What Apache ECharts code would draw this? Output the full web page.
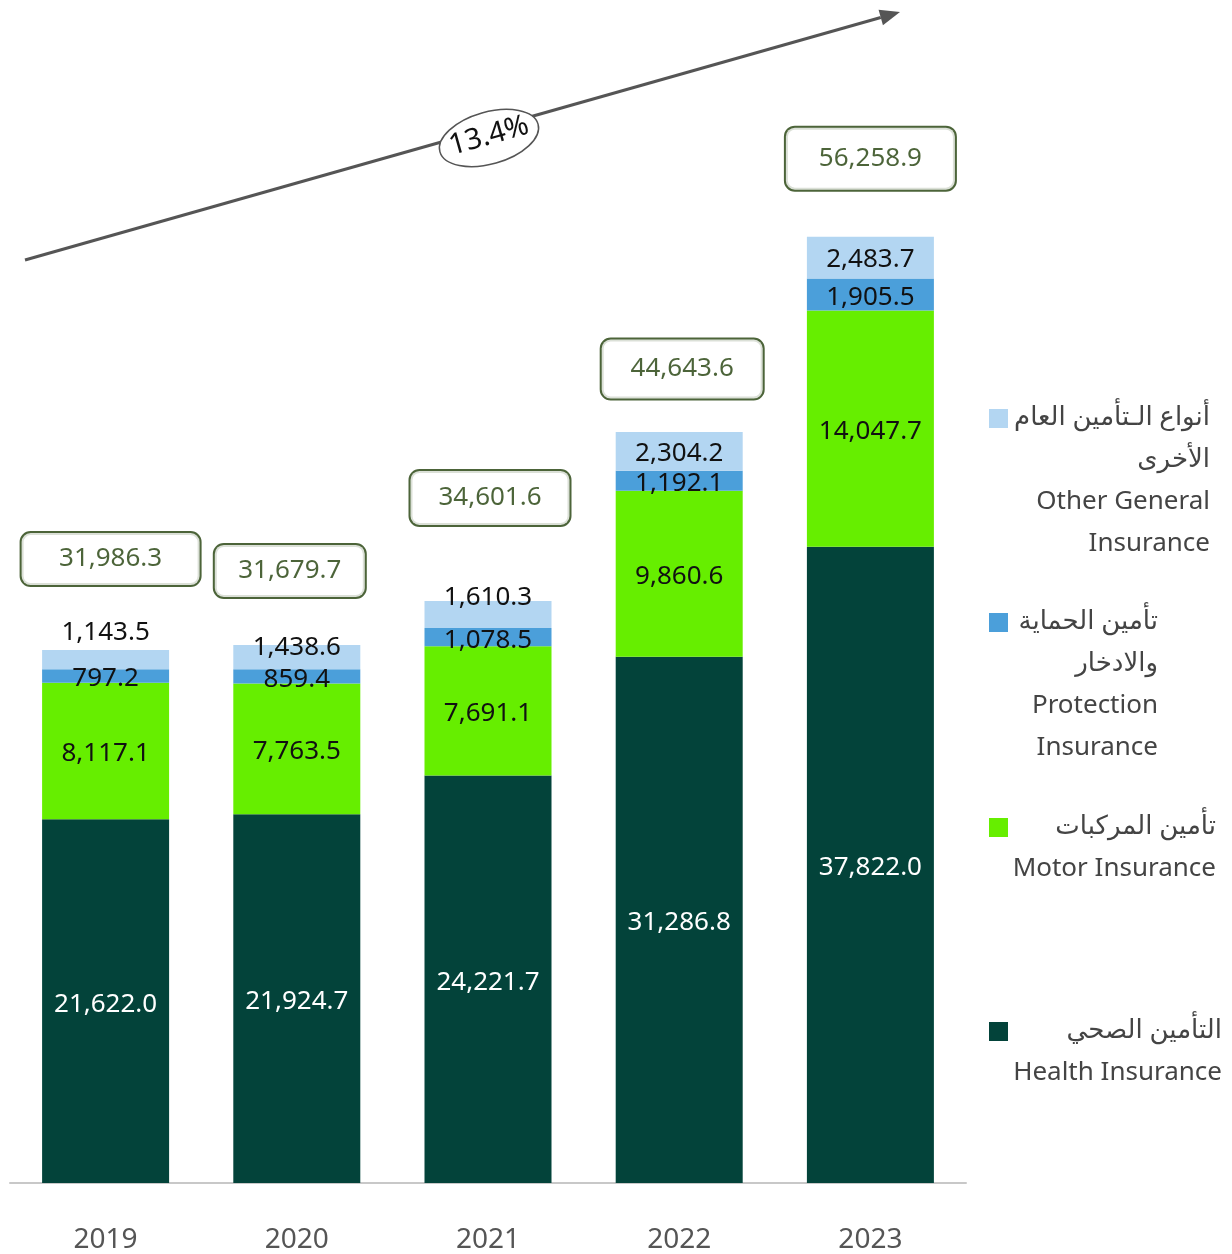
<!DOCTYPE html>
<html>
<head>
    <meta charset="UTF-8">
    <title>Insurance GWP by line</title>
    <script src="https://cdn.jsdelivr.net/npm/echarts@6/dist/echarts.min.js"></script>
    <style>
        html, body { margin: 0; padding: 0; background: #fff; }
        #chart { width: 1232px; height: 1254px; }
    </style>
</head>
<body>
<div id="chart"></div>
<script type="text/javascript">
    // data
    var years = ['2019', '2020', '2021', '2022', '2023'];
    var health = [21622.0, 21924.7, 24221.7, 31286.8, 37822.0];
    var motor = [8117.1, 7763.5, 7691.1, 9860.6, 14047.7];
    var protection = [797.2, 859.4, 1078.5, 1192.1, 1905.5];
    var otherGeneral = [1143.5, 1438.6, 1610.3, 2304.2, 2483.7];
    // totals as printed in the boxes
    var totals = [31986.3, 31679.7, 34601.6, 44643.6, 56258.9];
    var cagr = '13.4%';

    var colors = ['#03433A', '#66EE00', '#4B9FDA', '#B3D6F2'];
    var font = '"Noto Sans", "DejaVu Sans", sans-serif';

    // label placement tweaks (px)
    var otherLabelDy = [-27, -9, -17, 2, 2];
    var boxOffset = [[5, -91], [-7, -74], [2, -103], [3, -63], [0, -78]];
    var boxWidth = [178, 150, 159, 161, 169];
    var boxHeight = [52, 52, 54, 59, 62];

    function fmt(v) {
        return v.toLocaleString('en-US', { minimumFractionDigits: 1, maximumFractionDigits: 1 });
    }

    var myChart = echarts.init(document.getElementById('chart'));

    function segLabel(color) {
        return {
            show: true,
            position: 'inside',
            offset: [0, 3],
            color: color,
            fontFamily: font,
            fontSize: 26,
            formatter: function (p) { return fmt(p.value); }
        };
    }

    var stackTop = years.map(function (y, i) {
        return health[i] + motor[i] + protection[i] + otherGeneral[i];
    });

    // legend drawn on the right
    var legendItems = [
        { color: colors[3], right: 22, top: 397, lines: ['أنواع الـتأمين العام', 'الأخرى', 'Other General', 'Insurance'] },
        { color: colors[2], right: 74, top: 601, lines: ['تأمين الحماية', 'والادخار', 'Protection', 'Insurance'] },
        { color: colors[1], right: 16, top: 806, lines: ['تأمين المركبات', 'Motor Insurance'] },
        { color: colors[0], right: 10, top: 1010, lines: ['التأمين الصحي', 'Health Insurance'] }
    ];
    var graphics = [];
    legendItems.forEach(function (it) {
        graphics.push({
            type: 'rect', left: 989, top: it.top + 12,
            shape: { width: 19, height: 19 },
            style: { fill: it.color }
        });
        graphics.push({
            type: 'text', right: it.right, top: it.top,
            style: {
                text: it.lines.join('\n'), textAlign: 'right',
                font: '26px ' + font, lineHeight: 42, fill: '#444'
            }
        });
    });

    // growth arrow with the CAGR ellipse
    var x1 = 25, y1 = 260, x2 = 900, y2 = 12;
    var ang = Math.atan2(y1 - y2, x2 - x1);
    var ah = 20, aw = 8;
    var bx = x2 - ah * Math.cos(ang), by = y2 + ah * Math.sin(ang);
    graphics.push({
        type: 'line', shape: { x1: x1, y1: y1, x2: bx, y2: by },
        style: { stroke: '#555', lineWidth: 3 }
    });
    graphics.push({
        type: 'polygon',
        shape: { points: [
            [x2, y2],
            [bx - aw * Math.sin(ang), by - aw * Math.cos(ang)],
            [bx + aw * Math.sin(ang), by + aw * Math.cos(ang)]
        ] },
        style: { fill: '#555' }
    });
    graphics.push({
        type: 'ellipse', x: 489, y: 138, rotation: ang,
        shape: { cx: 0, cy: 0, rx: 51, ry: 26 },
        style: { fill: '#fff', stroke: '#555', lineWidth: 1.5 }
    });
    graphics.push({
        type: 'text', x: 489, y: 136, rotation: ang,
        style: {
            text: cagr, textAlign: 'center', textVerticalAlign: 'middle',
            font: '29px ' + font, fill: '#111'
        }
    });

    var option = {
        backgroundColor: '#fff',
        animation: false,
        grid: { left: 10, right: 266, top: 20, bottom: 69 },
        xAxis: {
            type: 'category',
            data: years,
            axisLine: { lineStyle: { color: '#c8c8c8', width: 2 } },
            axisTick: { show: false },
            axisLabel: { color: '#555', fontSize: 28, fontFamily: font, margin: 43 }
        },
        yAxis: {
            type: 'value', min: 0, max: 69137,
            show: false,
            splitLine: { show: false }
        },
        series: [
            {
                name: 'Health Insurance', type: 'bar', stack: 'gwp', barWidth: 127,
                itemStyle: { color: colors[0] }, data: health,
                label: segLabel('#fff')
            },
            {
                name: 'Motor Insurance', type: 'bar', stack: 'gwp',
                itemStyle: { color: colors[1] }, data: motor,
                label: segLabel('#111')
            },
            {
                name: 'Protection Insurance', type: 'bar', stack: 'gwp',
                itemStyle: { color: colors[2] }, data: protection,
                label: segLabel('#111')
            },
            {
                name: 'Other General Insurance', type: 'bar', stack: 'gwp',
                itemStyle: { color: colors[3] },
                data: otherGeneral.map(function (v, i) {
                    return { value: v, label: { offset: [0, otherLabelDy[i]] } };
                }),
                label: segLabel('#111')
            },
            {
                name: 'Total', type: 'scatter', symbolSize: 0, silent: true,
                data: stackTop.map(function (v, i) {
                    return {
                        value: [years[i], v],
                        label: {
                            offset: boxOffset[i],
                            width: boxWidth[i],
                            height: boxHeight[i],
                            formatter: fmt(totals[i])
                        }
                    };
                }),
                label: {
                    show: true, position: 'inside',
                    color: '#1F3D08', fontSize: 26, fontFamily: font,
                    align: 'center', verticalAlign: 'middle',
                    backgroundColor: '#fff',
                    borderColor: '#1F3D08', borderWidth: 2, borderRadius: 9,
                    padding: 0
                },
                z: 10
            }
        ],
        graphic: graphics
    };

    myChart.setOption(option);
</script>
</body>
</html>
